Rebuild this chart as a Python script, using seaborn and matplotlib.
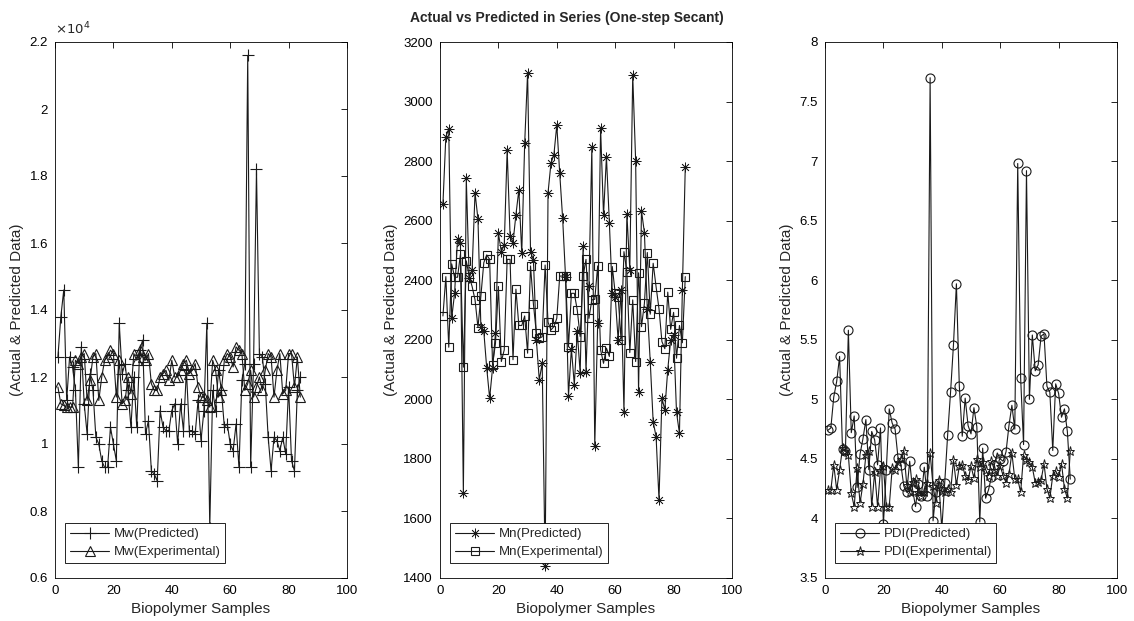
import numpy as np
import pandas as pd
import matplotlib
matplotlib.use("Agg")
import matplotlib.pyplot as plt
from matplotlib.ticker import FuncFormatter, MultipleLocator
import seaborn as sns

# ---- data -------------------------------------------------------------
samples = list(range(1, 85))

mw_pred = [1.26, 1.38, 1.46, 1.13, 1.26, 1.23, 1.16, 0.93, 1.29, 1.12,
           1.03, 1.21, 1.16, 1.02, 1.00, 0.95, 0.93, 0.93, 1.05, 1.00,
           0.95, 1.36, 1.21, 1.24, 1.16, 1.05, 1.20, 1.05, 1.28, 1.31,
           1.03, 1.07, 0.92, 0.91, 0.89, 1.10, 1.05, 1.04, 1.04, 1.10,
           1.12, 1.00, 1.12, 1.04, 1.22, 1.04, 1.04, 1.03, 1.13, 1.01,
           1.10, 1.36, 0.75, 1.16, 1.10, 1.22, 1.16, 1.05, 1.06, 1.00,
           0.98, 1.06, 0.93, 1.19, 1.24, 2.16, 0.93, 1.24, 1.82, 1.27,
           1.26, 1.18, 1.02, 0.92, 1.02, 1.01, 0.98, 1.02, 0.97, 1.17,
           0.95, 0.92, 1.16, 1.20]
mw_exp = [1.17, 1.12, 1.115, 1.11, 1.11, 1.11, 1.25, 1.24, 1.26, 1.27,
          1.13, 1.19, 1.26, 1.27, 1.13, 1.20, 1.25, 1.26, 1.28, 1.27,
          1.14, 1.25, 1.12, 1.13, 1.20, 1.15, 1.27, 1.25, 1.28, 1.26,
          1.25, 1.27, 1.18, 1.16, 1.16, 1.20, 1.21, 1.22, 1.19, 1.25,
          1.20, 1.20, 1.22, 1.24, 1.25, 1.21, 1.22, 1.24, 1.17, 1.14,
          1.14, 1.13, 1.11, 1.25, 1.22, 1.14, 1.16, 1.25, 1.27, 1.26,
          1.23, 1.29, 1.28, 1.27, 1.16, 1.18, 1.22, 1.14, 1.17, 1.20,
          1.16, 1.22, 1.27, 1.26, 1.14, 1.22, 1.27, 1.15, 1.16, 1.27,
          1.27, 1.17, 1.26, 1.14]

mn_pred = [2655, 2882, 2907, 2272, 2356, 2538, 2524, 1685, 2742, 2407,
           2435, 2694, 2605, 2244, 2228, 2105, 2004, 2105, 2222, 2558,
           2496, 2518, 2837, 2549, 2526, 2620, 2703, 2491, 2860, 3097,
           2496, 2468, 2200, 2065, 2121, 1440, 2694, 2793, 2821, 2921,
           2759, 2608, 2410, 2012, 2170, 2049, 2228, 2088, 2515, 2093,
           2380, 2846, 1842, 2256, 2910, 2619, 2815, 2593, 2356, 2345,
           2200, 2367, 1959, 2623, 2435, 3089, 2802, 2026, 2633, 2560,
           2303, 2127, 1925, 1875, 1663, 2004, 1965, 2100, 2200, 2216,
           1956, 1886, 2368, 2781]
mn_exp = [2280, 2412, 2175, 2455, 2410, 2410, 2487, 2108, 2465, 2412,
          2379, 2334, 2241, 2347, 2459, 2485, 2470, 2115, 2188, 2379,
          2127, 2166, 2470, 2470, 2133, 2370, 2248, 2248, 2280, 2155,
          2448, 2319, 2222, 2205, 2210, 2451, 2259, 2233, 2244, 2272,
          2414, 2414, 2414, 2177, 2356, 2356, 2300, 2211, 2414, 2470,
          2272, 2334, 2336, 2448, 2166, 2121, 2172, 2144, 2446, 2356,
          2345, 2200, 2496, 2429, 2157, 2334, 2127, 2425, 2244, 2322,
          2493, 2286, 2457, 2378, 2304, 2194, 2170, 2360, 2235, 2292,
          2138, 2248, 2190, 2412]

pdi_pred = [4.74, 4.76, 5.02, 5.15, 5.36, 4.58, 4.57, 5.58, 4.72, 4.86,
            4.26, 4.54, 4.67, 4.83, 4.41, 4.73, 4.66, 4.45, 4.76, 3.95,
            4.41, 4.92, 4.80, 4.75, 4.51, 4.45, 4.27, 4.22, 4.48, 4.24,
            4.10, 4.29, 4.19, 4.43, 4.19, 7.70, 3.98, 4.22, 4.30, 3.91,
            4.30, 4.70, 5.06, 5.46, 5.97, 5.11, 4.69, 5.01, 4.78, 4.71,
            4.93, 4.77, 3.97, 4.59, 4.17, 4.24, 4.35, 4.45, 4.55, 4.50,
            4.48, 4.56, 4.78, 4.95, 4.75, 6.98, 5.18, 4.62, 6.92, 5.00,
            5.54, 5.24, 5.29, 5.53, 5.55, 5.11, 5.06, 4.57, 5.13, 5.05,
            4.85, 4.92, 4.73, 4.33]
pdi_exp = [4.24, 4.24, 4.45, 4.24, 4.41, 4.59, 4.57, 4.53, 4.21, 4.10,
           4.42, 4.13, 4.29, 4.53, 4.57, 4.10, 4.39, 4.10, 4.41, 4.44,
           4.10, 4.10, 4.42, 4.41, 4.47, 4.50, 4.57, 4.28, 4.22, 4.31,
           4.33, 4.22, 4.19, 4.22, 4.30, 4.55, 4.27, 4.13, 4.32, 4.23,
           4.22, 4.25, 4.22, 4.49, 4.28, 4.44, 4.45, 4.36, 4.32, 4.44,
           4.34, 4.50, 4.43, 4.47, 4.41, 4.36, 4.48, 4.41, 4.36, 4.44,
           4.36, 4.30, 4.37, 4.55, 4.33, 4.33, 4.22, 4.53, 4.49, 4.47,
           4.43, 4.30, 4.31, 4.32, 4.46, 4.25, 4.17, 4.36, 4.40, 4.35,
           4.46, 4.25, 4.17, 4.57]

mw_scale = 1e4  # Mw values above are in units of 10^4

# ---- style ------------------------------------------------------------
sns.set_theme(style="white")
plt.rcParams["font.family"] = ["Liberation Sans", "DejaVu Sans"]
plt.rcParams["axes.linewidth"] = 0.8

fig = plt.figure(figsize=(11.34, 6.21), dpi=100)
W, H = 1134, 621
ax_w = 292 / W
ax_b = 1 - 578 / H
ax_h = (578 - 42) / H
lefts = [55 / W, 440 / W, 825 / W]
axes = [fig.add_axes([l, ax_b, ax_w, ax_h]) for l in lefts]

panels = [
    dict(pred=[v * mw_scale for v in mw_pred], exp=[v * mw_scale for v in mw_exp],
         names=("Mw(Predicted)", "Mw(Experimental)"),
         markers=("+", "^"), ms=(8, 7), mew=(0.8, 0.8),
         ylim=(0.6e4, 2.2e4), ystep=0.2e4),
    dict(pred=mn_pred, exp=mn_exp,
         names=("Mn(Predicted)", "Mn(Experimental)"),
         markers=((8, 2, 0), "s"), ms=(7, 5.5), mew=(0.55, 0.8),
         ylim=(1400, 3200), ystep=200),
    dict(pred=pdi_pred, exp=pdi_exp,
         names=("PDI(Predicted)", "PDI(Experimental)"),
         markers=("o", "*"), ms=(6.5, 6.5), mew=(0.8, 0.7),
         ylim=(3.5, 8), ystep=0.5),
]

for ax, p in zip(axes, panels):
    df = pd.DataFrame({"sample": samples, "pred": p["pred"], "exp": p["exp"]})
    for col, name, mk, ms, mew in zip(("pred", "exp"), p["names"], p["markers"],
                                      p["ms"], p["mew"]):
        sns.lineplot(data=df, x="sample", y=col, ax=ax, sort=False, errorbar=None,
                     color="#1a1a1a", linewidth=0.8, marker=mk, markersize=ms,
                     markerfacecolor="none", markeredgecolor="#1a1a1a",
                     markeredgewidth=mew, label=name)
    ax.set_xlim(0, 100)
    ax.set_ylim(*p["ylim"])
    ax.xaxis.set_major_locator(MultipleLocator(20))
    ax.yaxis.set_major_locator(MultipleLocator(p["ystep"]))
    ax.tick_params(direction="in", top=True, right=True, length=4, width=0.6,
                   labelsize=9.5, colors="black", pad=5)
    for s in ax.spines.values():
        s.set_color("black")
        s.set_linewidth(0.6)
    ax.set_xlabel("Biopolymer Samples", fontsize=11, labelpad=4)
    ax.set_ylabel("(Actual & Predicted Data)", fontsize=11, labelpad=4)
    leg = ax.legend(loc="lower left", bbox_to_anchor=(0.035, 0.028),
                    fontsize=9.5, frameon=True, fancybox=False, framealpha=1,
                    edgecolor="black", handlelength=3.0, handletextpad=0.3,
                    labelspacing=0.45, borderpad=0.35, borderaxespad=0)
    leg.get_frame().set_linewidth(0.6)

axes[0].yaxis.set_major_formatter(FuncFormatter(lambda v, _: f"{v / mw_scale:g}"))
axes[0].text(0.0, 1.008, r"$\times10^{4}$", transform=axes[0].transAxes,
             fontsize=9.5, ha="left", va="bottom")
for ax in axes[1:]:
    ax.yaxis.set_major_formatter(FuncFormatter(lambda v, _: f"{v:g}"))

fig.suptitle("Actual vs Predicted in Series (One-step Secant)",
             fontsize=10, fontweight="bold", y=1 - 18 / H, va="center")

fig.savefig("out.png", dpi=100, facecolor="white")
